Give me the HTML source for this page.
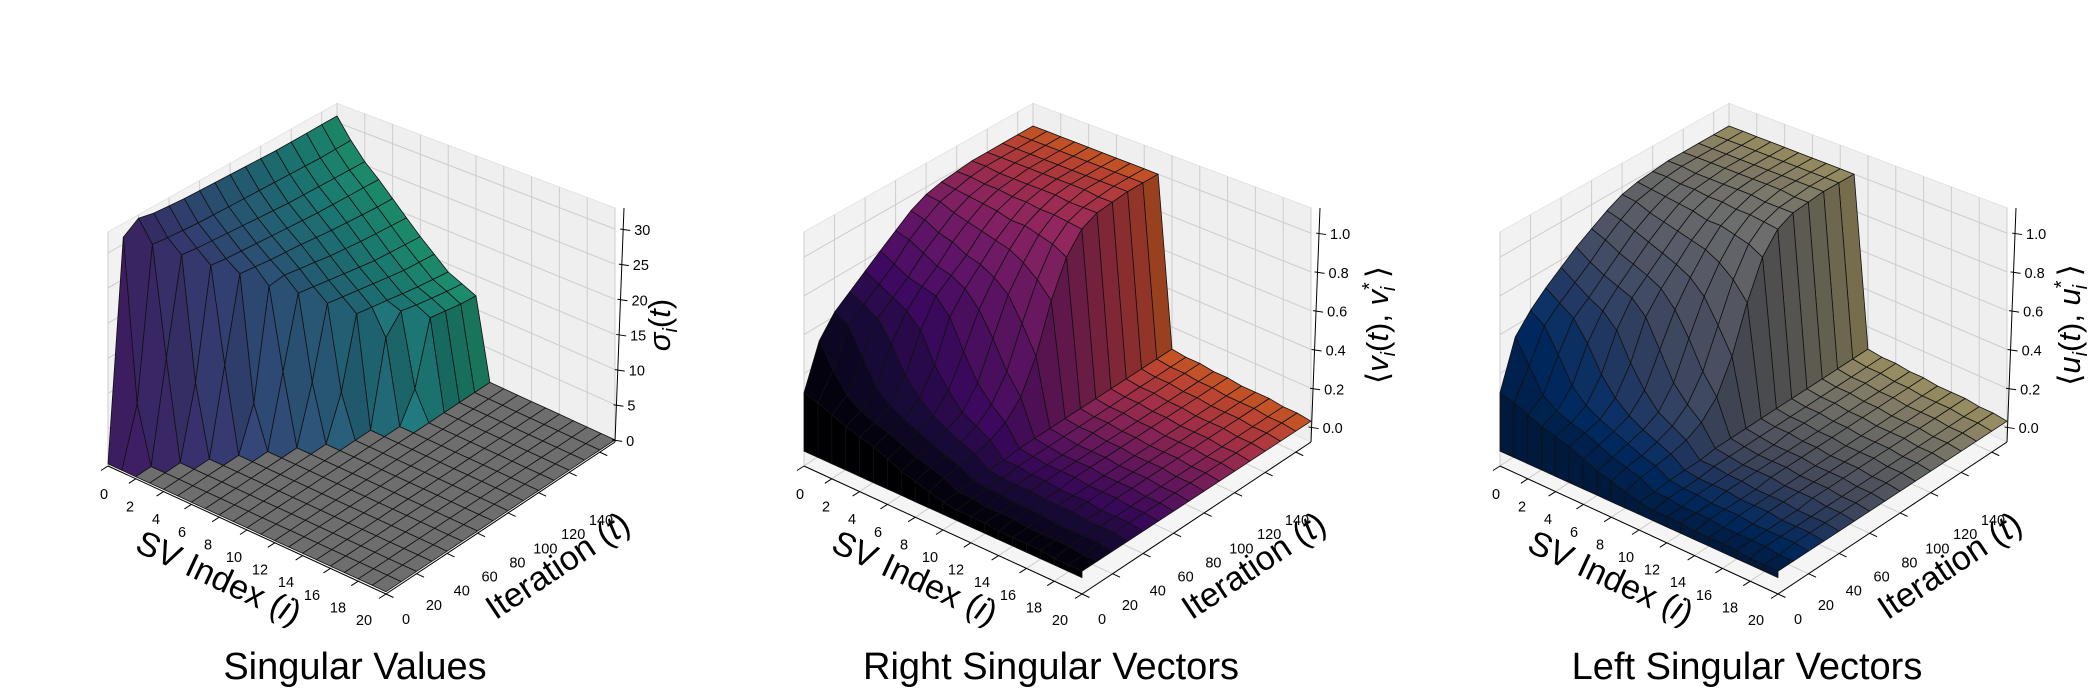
<!DOCTYPE html>
<html><head><meta charset="utf-8"><style>
html,body{margin:0;padding:0;background:#fff;}
svg{display:block;font-family:"Liberation Sans","DejaVu Sans",sans-serif;}
</style></head><body>
<svg id="fig" width="2100" height="700" viewBox="0 0 2100 700" xmlns="http://www.w3.org/2000/svg">
<rect x="0" y="0" width="2100" height="700" fill="#fff"/>
<g id="p0"></g>
<g id="p1"></g>
<g id="p2"></g>
</svg>
<script>
// ---- shared axes data ----
const svIndex = [0,1,2,3,4,5,6,7,8,9,10,11,12,13,14,15,16,17,18,19,20];
const iterations = [0,10,20,30,40,50,60,70,80,90,100,110,120,130,140,150];
const svTickLabels = [0,2,4,6,8,10,12,14,16,18,20];
const iterTickLabels = [0,20,40,60,80,100,120,140];
const sigmaTicks = [0,5,10,15,20,25,30];
const alignTicks = [0.0,0.2,0.4,0.6,0.8,1.0];

// ---- singular values sigma_i(t), rows = SV index, cols = iterations ----
const sigmaRows = [
[0,31,32.5,32,31.8,31.6,31.5,31.4,31.3,31.2,31.1,31,31,31,31,31],
[0,8,29.5,29.2,29,28.8,28.7,28.6,28.5,28.4,28.3,28.2,28.1,28,28,28],
[0,0,14,27.5,27.2,27,26.8,26.6,26.4,26.2,26,25.9,25.8,25.7,25.6,25.5],
[0,0,0,10,25.5,25.2,25,24.8,24.6,24.4,24.2,24,23.9,23.8,23.7,23.6],
[0,0,0,0,12,23.8,23.5,23.2,23,22.8,22.5,22.2,22,21.8,21.6,21.5],
[0,0,0,0,0,6,21.5,21.8,21.4,21,20.6,20.3,20,19.8,19.6,19.4],
[0,0,0,0,0,0,10,20,19.6,19.2,18.8,18.4,18,17.8,17.6,17.4],
[0,0,0,0,0,0,0,8,18,17.6,17.2,16.8,16.4,16,15.8,15.6],
[0,0,0,0,0,0,0,0,6,16,15.6,15.2,14.8,14.4,14.1,13.8],
[0,0,0,0,0,0,0,0,0,0,12,14.5,14,13.6,13.2,12.9],
[0,0,0,0,0,0,0,0,0,0,0,4,13,12.6,12.2,12],
[0,0,0,0,0,0,0,0,0,0,0,0,0,0,0,0],
[0,0,0,0,0,0,0,0,0,0,0,0,0,0,0,0],
[0,0,0,0,0,0,0,0,0,0,0,0,0,0,0,0],
[0,0,0,0,0,0,0,0,0,0,0,0,0,0,0,0],
[0,0,0,0,0,0,0,0,0,0,0,0,0,0,0,0],
[0,0,0,0,0,0,0,0,0,0,0,0,0,0,0,0],
[0,0,0,0,0,0,0,0,0,0,0,0,0,0,0,0],
[0,0,0,0,0,0,0,0,0,0,0,0,0,0,0,0],
[0,0,0,0,0,0,0,0,0,0,0,0,0,0,0,0],
[0,0,0,0,0,0,0,0,0,0,0,0,0,0,0,0]];

// ---- right singular vector alignment <v_i(t), v_i*> ----
const rightRows = [
[0.30,0.52,0.62,0.68,0.74,0.80,0.86,0.92,0.96,0.98,0.99,1.00,1.00,1.00,1.00,1.00],
[0.28,0.40,0.58,0.64,0.70,0.76,0.84,0.90,0.95,0.97,0.99,1.00,1.00,1.00,1.00,1.00],
[0.25,0.30,0.45,0.60,0.66,0.72,0.80,0.86,0.92,0.96,0.98,0.99,1.00,1.00,1.00,1.00],
[0.22,0.25,0.32,0.50,0.62,0.70,0.76,0.84,0.90,0.95,0.98,0.99,1.00,1.00,1.00,1.00],
[0.20,0.22,0.26,0.36,0.55,0.68,0.74,0.80,0.88,0.94,0.97,0.99,1.00,1.00,1.00,1.00],
[0.18,0.20,0.22,0.28,0.40,0.60,0.70,0.78,0.86,0.92,0.97,0.99,1.00,1.00,1.00,1.00],
[0.15,0.17,0.19,0.22,0.30,0.45,0.62,0.74,0.84,0.92,0.96,0.99,1.00,1.00,1.00,1.00],
[0.12,0.14,0.16,0.18,0.22,0.32,0.50,0.68,0.80,0.90,0.96,0.98,1.00,1.00,1.00,1.00],
[0.10,0.12,0.13,0.15,0.18,0.24,0.36,0.56,0.74,0.88,0.95,0.98,0.99,1.00,1.00,1.00],
[0.08,0.10,0.11,0.12,0.14,0.18,0.26,0.42,0.66,0.84,0.94,0.98,0.99,1.00,1.00,1.00],
[0.06,0.06,0.07,0.07,0.07,0.08,0.08,0.08,0.08,0.08,0.08,0.08,0.08,0.08,0.08,0.08],
[0.05,0.06,0.06,0.06,0.07,0.07,0.07,0.07,0.07,0.07,0.07,0.07,0.07,0.07,0.07,0.07],
[0.05,0.05,0.06,0.06,0.06,0.06,0.06,0.06,0.07,0.07,0.07,0.07,0.07,0.07,0.07,0.07],
[0.05,0.05,0.05,0.06,0.06,0.06,0.06,0.06,0.06,0.06,0.06,0.06,0.06,0.06,0.06,0.06],
[0.04,0.05,0.05,0.05,0.05,0.06,0.06,0.06,0.06,0.06,0.06,0.06,0.06,0.06,0.06,0.06],
[0.04,0.04,0.05,0.05,0.05,0.05,0.05,0.05,0.05,0.05,0.05,0.05,0.05,0.05,0.05,0.05],
[0.04,0.04,0.04,0.05,0.05,0.05,0.05,0.05,0.05,0.05,0.05,0.05,0.05,0.05,0.05,0.05],
[0.04,0.04,0.04,0.04,0.04,0.05,0.05,0.05,0.05,0.05,0.05,0.05,0.05,0.05,0.05,0.05],
[0.03,0.04,0.04,0.04,0.04,0.04,0.04,0.04,0.04,0.04,0.04,0.04,0.04,0.04,0.04,0.04],
[0.03,0.03,0.04,0.04,0.04,0.04,0.04,0.04,0.04,0.04,0.04,0.04,0.04,0.04,0.04,0.04],
[0.03,0.03,0.03,0.03,0.03,0.03,0.03,0.03,0.03,0.03,0.03,0.03,0.03,0.03,0.03,0.03]];

// ---- left singular vector alignment <u_i(t), u_i*> ----
const leftRows = [
[0.30,0.54,0.63,0.70,0.76,0.82,0.87,0.92,0.96,0.98,0.99,1.00,1.00,1.00,1.00,1.00],
[0.28,0.42,0.58,0.65,0.71,0.77,0.84,0.90,0.95,0.97,0.99,1.00,1.00,1.00,1.00,1.00],
[0.25,0.30,0.46,0.60,0.66,0.73,0.80,0.87,0.92,0.96,0.98,0.99,1.00,1.00,1.00,1.00],
[0.22,0.25,0.33,0.50,0.62,0.70,0.77,0.84,0.90,0.95,0.98,0.99,1.00,1.00,1.00,1.00],
[0.20,0.22,0.26,0.37,0.55,0.67,0.74,0.81,0.88,0.94,0.97,0.99,1.00,1.00,1.00,1.00],
[0.18,0.20,0.22,0.28,0.41,0.60,0.70,0.78,0.86,0.92,0.97,0.99,1.00,1.00,1.00,1.00],
[0.15,0.17,0.19,0.22,0.30,0.46,0.62,0.74,0.84,0.92,0.96,0.99,1.00,1.00,1.00,1.00],
[0.12,0.14,0.16,0.18,0.22,0.32,0.50,0.67,0.80,0.90,0.96,0.98,1.00,1.00,1.00,1.00],
[0.10,0.12,0.13,0.15,0.18,0.24,0.36,0.55,0.74,0.88,0.95,0.98,0.99,1.00,1.00,1.00],
[0.08,0.10,0.11,0.12,0.14,0.18,0.26,0.42,0.65,0.84,0.94,0.98,0.99,1.00,1.00,1.00],
[0.06,0.06,0.07,0.07,0.07,0.08,0.08,0.08,0.08,0.08,0.08,0.08,0.08,0.08,0.08,0.08],
[0.05,0.06,0.06,0.06,0.07,0.07,0.07,0.07,0.07,0.07,0.07,0.07,0.07,0.07,0.07,0.07],
[0.05,0.05,0.06,0.06,0.06,0.06,0.06,0.06,0.07,0.07,0.07,0.07,0.07,0.07,0.07,0.07],
[0.05,0.05,0.05,0.06,0.06,0.06,0.06,0.06,0.06,0.06,0.06,0.06,0.06,0.06,0.06,0.06],
[0.04,0.05,0.05,0.05,0.05,0.06,0.06,0.06,0.06,0.06,0.06,0.06,0.06,0.06,0.06,0.06],
[0.04,0.04,0.05,0.05,0.05,0.05,0.05,0.05,0.05,0.05,0.05,0.05,0.05,0.05,0.05,0.05],
[0.04,0.04,0.04,0.05,0.05,0.05,0.05,0.05,0.05,0.05,0.05,0.05,0.05,0.05,0.05,0.05],
[0.04,0.04,0.04,0.04,0.04,0.05,0.05,0.05,0.05,0.05,0.05,0.05,0.05,0.05,0.05,0.05],
[0.03,0.04,0.04,0.04,0.04,0.04,0.04,0.04,0.04,0.04,0.04,0.04,0.04,0.04,0.04,0.04],
[0.03,0.03,0.04,0.04,0.04,0.04,0.04,0.04,0.04,0.04,0.04,0.04,0.04,0.04,0.04,0.04],
[0.03,0.03,0.03,0.03,0.03,0.03,0.03,0.03,0.03,0.03,0.03,0.03,0.03,0.03,0.03,0.03]];

const viridis=["#440154","#482475","#414487","#355f8d","#2a788e","#21918c","#22a884","#44bf70","#7ad151","#bddf26","#fde725"];
const inferno=["#000004","#160b39","#420a68","#6a176e","#932667","#bc3754","#dd513a","#f37819","#fca50a","#f6d746","#fcffa4"];
const cividis=["#00204c","#00306f","#2a406c","#48526b","#5e626e","#727374","#878479","#9e9677","#b6a971","#cfbc68","#e9d35a"];

const NS="http://www.w3.org/2000/svg";
function hex(c){return [parseInt(c.slice(1,3),16),parseInt(c.slice(3,5),16),parseInt(c.slice(5,7),16)];}
function cmap(stops,v){v=Math.max(0,Math.min(1,v));const p=v*(stops.length-1);const k=Math.min(stops.length-2,Math.floor(p));const f=p-k;const a=hex(stops[k]),b=hex(stops[k+1]);return a.map((x,j)=>x+(b[j]-x)*f);}
function rgb(a,s){return "rgb("+a.map(x=>Math.round(Math.min(255,x*s))).join(",")+")";}
function el(tag,attrs,parent){const e=document.createElementNS(NS,tag);for(const k in attrs)e.setAttribute(k,attrs[k]);parent.appendChild(e);return e;}

const panels=[
 {g:"p0",dx:0,rows:sigmaRows,zlo:-0.3,zhi:33,zs:7.03,zticks:sigmaTicks,zfmt:v=>String(v),stops:viridis,c0:0.08,c1:0.62,floorGray:true,
  title:"Singular Values",zlabel:"sigma",zlx:660},
 {g:"p1",dx:696,rows:rightRows,zlo:-0.077,zhi:1.13,zs:194,zticks:alignTicks,zfmt:v=>v.toFixed(1),stops:inferno,c0:0.0,c1:0.66,floorGray:false,
  title:"Right Singular Vectors",zlabel:"v",zlx:1378},
 {g:"p2",dx:1392,rows:leftRows,zlo:-0.077,zhi:1.13,zs:194,zticks:alignTicks,zfmt:v=>v.toFixed(1),stops:cividis,c0:0.0,c1:0.8,floorGray:false,
  title:"Left Singular Vectors",zlabel:"u",zlx:2070}
];
const IMAX=20,TMAX=150;
const eix=(386-108)/IMAX, eiy=(594-466)/IMAX, etx=(615-386)/TMAX, ety=(442-594)/TMAX;

panels.forEach(cfg=>{
 const g=document.getElementById(cfg.g);
 const ax=108+cfg.dx, ay=466;
 const P=(i,t,z)=>{const d=i/IMAX-t/TMAX;const s=cfg.zs*(1+0.1*d);return [ax+i*eix+t*etx, ay+i*eiy+t*ety-(z-cfg.zlo)*s];};
 const pts=a=>a.map(p=>p[0].toFixed(1)+","+p[1].toFixed(1)).join(" ");
 const zl=cfg.zlo, zh=cfg.zhi;
 const lp=el("polygon",{points:pts([P(0,0,zl),P(0,TMAX,zl),P(0,TMAX,zh),P(0,0,zh)]),fill:"#f2f2f2",stroke:"#e0e0e0","stroke-width":"0.8"},g);
 
 
 const rp=el("polygon",{points:pts([P(0,TMAX,zl),P(IMAX,TMAX,zl),P(IMAX,TMAX,zh),P(0,TMAX,zh)]),fill:"#efefef",stroke:"#e0e0e0","stroke-width":"0.8"},g);
 
 
 const fp=el("polygon",{points:pts([P(0,0,zl),P(IMAX,0,zl),P(IMAX,TMAX,zl),P(0,TMAX,zl)]),fill:"#f5f5f5",stroke:"#e0e0e0","stroke-width":"0.8"},g);
 
 
 const grid=el("g",{stroke:"#cdcdcd","stroke-width":"1",fill:"none"},g);
 
 
 iterTickLabels.forEach(t=>{el("polyline",{points:pts([P(0,t,zl),P(0,t,zh)])},grid);el("polyline",{points:pts([P(0,t,zl),P(IMAX,t,zl)])},grid);});
 svTickLabels.forEach(i=>{el("polyline",{points:pts([P(i,TMAX,zl),P(i,TMAX,zh)])},grid);el("polyline",{points:pts([P(i,0,zl),P(i,TMAX,zl)])},grid);});
 cfg.zticks.forEach(z=>{el("polyline",{points:pts([P(0,0,z),P(0,TMAX,z),P(IMAX,TMAX,z)])},grid);});

 const quads=[];
 const rows=cfg.rows, nI=svIndex.length, nT=iterations.length;
 const L=[0.3,-0.6,0.75];const Ln=Math.hypot(...L);
 for(let a=0;a<nI-1;a++)for(let b=0;b<nT-1;b++){
  const i0=svIndex[a],i1=svIndex[a+1],t0=iterations[b],t1=iterations[b+1];
  const z00=rows[a][b],z10=rows[a+1][b],z11=rows[a+1][b+1],z01=rows[a][b+1];
  const Z=z=>(z-zl)/(zh-zl);
  const d1=[(i1-i0)/IMAX,(t1-t0)/TMAX,Z(z11)-Z(z00)], d2=[(i0-i1)/IMAX,(t1-t0)/TMAX,Z(z01)-Z(z10)];
  let n=[d1[1]*d2[2]-d1[2]*d2[1], d1[2]*d2[0]-d1[0]*d2[2], d1[0]*d2[1]-d1[1]*d2[0]];
  const nn=Math.hypot(...n)||1; n=n.map(x=>x/nn); if(n[2]<0)n=n.map(x=>-x);
  const dot=(n[0]*L[0]+n[1]*L[1]+n[2]*L[2])/Ln;
  const shade=0.85*(0.55+0.45*Math.max(dot,0))/0.9;
  const tc=(t0+t1)/2/TMAX;
  let fill=rgb(cmap(cfg.stops,cfg.c0+(cfg.c1-cfg.c0)*tc),shade);
  if(cfg.floorGray && Math.max(z00,z10,z11,z01)===0) fill="#6e6e6e";
  const depth=((i0+i1)/2)/IMAX-((t0+t1)/2)/TMAX;
  quads.push({depth,poly:[P(i0,t0,z00),P(i1,t0,z10),P(i1,t1,z11),P(i0,t1,z01)],fill});
 }
 for(let a=0;a<nI-1;a++){
  const i0=svIndex[a],i1=svIndex[a+1],za=rows[a][0],zb=rows[a+1][0];
  if(za>0||zb>0){
   quads.push({depth:((i0+i1)/2)/IMAX+0.001,poly:[P(i0,0,0),P(i1,0,0),P(i1,0,zb),P(i0,0,za)],fill:rgb(cmap(cfg.stops,cfg.c0),0.8)});
  }
 }
 quads.sort((p,q)=>p.depth-q.depth);
 const sg=el("g",{stroke:"#111","stroke-width":"0.8","stroke-linejoin":"round"},g);
 
 
 quads.forEach(q=>{
  const e=el("polygon",{points:pts(q.poly),fill:q.fill},sg);
  
  
 });

 const axg=el("g",{stroke:"#000","stroke-width":"1",fill:"none"},g);
 
 
 el("polyline",{points:pts([P(0,0,zl),P(IMAX,0,zl)])},axg);
 el("polyline",{points:pts([P(IMAX,0,zl),P(IMAX,TMAX,zl)])},axg);
 const C=P(IMAX,TMAX,zl);
 el("polyline",{points:pts([[C[0],C[1]],[C[0]+9,C[1]-234]])},axg);
 const tickg=el("g",{"font-size":"14.5",fill:"#000"},g);
 
 
 svTickLabels.forEach(i=>{
  const p=P(i,0,zl);
  el("line",{x1:p[0],y1:p[1],x2:p[0]-7,y2:p[1]+4.5},axg);
  const tx=el("text",{x:(104+cfg.dx+i*13).toFixed(1),y:(499+i*6.3).toFixed(1),"text-anchor":"middle"},tickg);
  tx.textContent=String(i);
  
  
 });
 iterTickLabels.forEach(t=>{
  const p=P(IMAX,t,zl);
  el("line",{x1:p[0],y1:p[1],x2:p[0]+7.5,y2:p[1]+3.5},axg);
  const tx=el("text",{x:(406+cfg.dx+t*1.393).toFixed(1),y:(624-t*0.707).toFixed(1),"text-anchor":"middle"},tickg);
  tx.textContent=String(t);
  
  
 });
 cfg.zticks.forEach(z=>{
  const y=C[1]-(z-zl)*cfg.zs; const x=C[0]+(z-zl)*cfg.zs*9/234;
  el("line",{x1:x-3,y1:y,x2:x+7,y2:y+1.5},axg);
  const tx=el("text",{x:(x+11).toFixed(1),y:(y+6).toFixed(1),"text-anchor":"start"},tickg);
  tx.textContent=cfg.zfmt(z);
  
  
 });

 const xl=el("text",{x:0,y:0,"font-size":"34","text-anchor":"middle",transform:`translate(${214+cfg.dx},${588}) rotate(25)`},g);
 xl.innerHTML='SV Index (<tspan font-style="italic">i</tspan>)';
 
 
 const yl=el("text",{x:0,y:0,"font-size":"34","text-anchor":"middle",transform:`translate(${564+cfg.dx},${575}) rotate(-33.6)`},g);
 yl.innerHTML='Iteration (<tspan font-style="italic">t</tspan>)';
 
 
 const zt=el("text",{x:0,y:0,"font-size":"31","text-anchor":"middle",transform:`translate(${cfg.zlx+10},${325}) rotate(-90)`},g);
 if(cfg.zlabel==="sigma") zt.innerHTML='<tspan font-style="italic">σ</tspan><tspan font-style="italic" font-size="20" dy="7">i</tspan><tspan dy="-7">(</tspan><tspan font-style="italic">t</tspan>)';
 else zt.innerHTML='⟨<tspan font-style="italic">'+cfg.zlabel+'</tspan><tspan font-style="italic" font-size="20" dy="7">i</tspan><tspan dy="-7">(</tspan><tspan font-style="italic">t</tspan>), <tspan font-style="italic">'+cfg.zlabel+'</tspan><tspan font-size="20" dy="-12">*</tspan><tspan font-style="italic" font-size="20" dx="-9" dy="19">i</tspan><tspan dy="-7"> ⟩</tspan>';
 
 
 const ti=el("text",{x:355+cfg.dx,y:679,"font-size":"38","text-anchor":"middle"},g);
 ti.textContent=cfg.title;
 
 
});
</script>
</body></html>
